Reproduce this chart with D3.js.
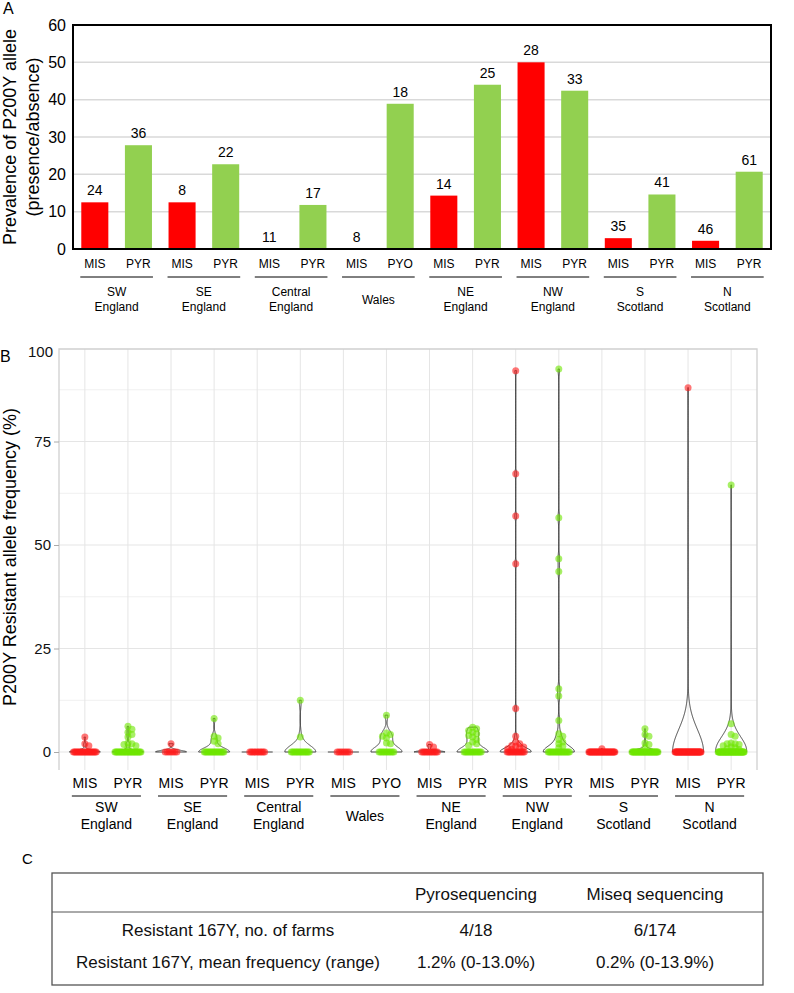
<!DOCTYPE html>
<html>
<head>
<meta charset="utf-8">
<script src="https://cdn.jsdelivr.net/npm/d3@7"></script>
<style>
body { margin: 0; background: #fff; }
svg { font-family: "Liberation Sans", Arial, sans-serif; }
</style>
</head>
<body>
<svg id="fig" width="794" height="993"></svg>
<script>
// regions and the two sample sets per region
var regions = [["SW","England"],["SE","England"],["Central","England"],["Wales"],["NE","England"],["NW","England"],["S","Scotland"],["N","Scotland"]];
var methodA = ["MIS","MIS","MIS","MIS","MIS","MIS","MIS","MIS"];
var methodB = ["PYR","PYR","PYR","PYO","PYR","PYR","PYR","PYR"];

// panel A: prevalence (%) and number of farms
var prevMIS = [12.5, 12.5, 0, 0, 14.3, 50, 2.9, 2.2];
var prevPYR = [27.8, 22.7, 11.8, 38.9, 44, 42.4, 14.6, 20.7];
var nMIS = [24, 8, 11, 8, 14, 28, 35, 46];
var nPYR = [36, 22, 17, 18, 25, 33, 41, 61];

// panel B: non-zero resistant allele frequencies (%) and number of farms at 0
var freqMIS = [
  [3.6, 2.0, 1.5],
  [2.0],
  [],
  [],
  [1.8, 1.2],
  [92.1, 67.2, 57.0, 45.5, 10.5, 3.8, 2.4, 2.0, 1.6, 1.4, 1.2, 1.0, 0.8, 0.6],
  [0.8],
  [88.0]
];
var zeroMIS = [21, 7, 11, 8, 12, 14, 34, 45];
var freqPYR = [
  [6.2, 5.5, 4.8, 4.2, 3.6, 2.2, 2.0, 1.8, 1.5, 1.0],
  [8.1, 3.8, 3.4, 2.6, 2.0],
  [12.5, 3.6],
  [8.9, 4.6, 4.2, 3.8, 3.4, 2.2, 2.0],
  [6.0, 5.6, 5.2, 4.8, 4.4, 4.0, 3.6, 3.0, 2.4, 2.0, 1.6],
  [92.5, 56.6, 46.7, 43.6, 15.3, 13.5, 7.6, 4.4, 3.8, 3.0, 2.4, 2.0, 1.4, 1.0],
  [5.6, 4.2, 3.8, 2.2, 1.8, 1.0],
  [64.5, 6.8, 4.2, 3.8, 2.2, 2.0, 2.0, 1.8, 1.5, 1.2, 1.0, 0.8, 0.6]
];
var zeroPYR = [26, 17, 15, 11, 14, 19, 35, 48];

var ticksA = [0, 10, 20, 30, 40, 50, 60];
var ticksB = [0, 25, 50, 75];

// panel C table
var tableHead = ["", "Pyrosequencing", "Miseq sequencing"];
var tableRows = [
  ["Resistant 167Y, no. of farms", "4/18", "6/174"],
  ["Resistant 167Y, mean frequency (range)", "1.2% (0-13.0%)", "0.2% (0-13.9%)"]
];

var svg = d3.select("#fig");

var cats = [];
regions.forEach(function(r, i) {
  cats.push({key: i + "a", region: i, label: methodA[i], prev: prevMIS[i], n: nMIS[i], vals: freqMIS[i], zeros: zeroMIS[i], bar: "#ff0000", dot: "#ff1a1a"});
  cats.push({key: i + "b", region: i, label: methodB[i], prev: prevPYR[i], n: nPYR[i], vals: freqPYR[i], zeros: zeroPYR[i], bar: "#92d050", dot: "#6ee600"});
});
var keys = cats.map(function(c) { return c.key; });

// ---------------- Panel A ----------------
var gA = svg.append("g");
var xA = d3.scaleBand().domain(keys).range([73, 771]).paddingInner(0.38).paddingOuter(0.19);
var yA = d3.scaleLinear().domain([0, 60]).range([249, 25]);

gA.append("text").attr("x", 3).attr("y", 14).attr("font-size", 16).text("A");

gA.selectAll(".grid").data(ticksA.slice(1, -1)).enter().append("line")
  .attr("x1", 73).attr("x2", 771)
  .attr("y1", function(d) { return yA(d); }).attr("y2", function(d) { return yA(d); })
  .attr("stroke", "#d9d9d9").attr("stroke-width", 1.5);

gA.selectAll(".bar").data(cats).enter().append("rect")
  .attr("x", function(d) { return xA(d.key); })
  .attr("y", function(d) { return yA(d.prev); })
  .attr("width", xA.bandwidth())
  .attr("height", function(d) { return yA(0) - yA(d.prev); })
  .attr("fill", function(d) { return d.bar; });

gA.selectAll(".nlab").data(cats).enter().append("text")
  .attr("x", function(d) { return xA(d.key) + xA.bandwidth() / 2; })
  .attr("y", function(d) { return yA(d.prev) - 7; })
  .attr("text-anchor", "middle").attr("font-size", 14)
  .text(function(d) { return d.n; });

gA.append("rect").attr("x", 73).attr("y", 25).attr("width", 698).attr("height", 224)
  .attr("fill", "none").attr("stroke", "#000").attr("stroke-width", 2);

var axA = gA.append("g").attr("transform", "translate(73,0)")
  .call(d3.axisLeft(yA).tickValues(ticksA).tickSize(0).tickPadding(7));
axA.select(".domain").remove();
axA.selectAll("text").attr("font-size", 16).attr("font-family", null).attr("fill", "#000");

var titleA = gA.append("text").attr("transform", "translate(16,137) rotate(-90)")
  .attr("text-anchor", "middle").attr("font-size", 18);
titleA.append("tspan").attr("x", 0).attr("dy", 0).text("Prevalence of P200Y allele");
titleA.append("tspan").attr("x", 0).attr("dy", 23).text("(presence/absence)");

gA.selectAll(".mlab").data(cats).enter().append("text")
  .attr("x", function(d) { return xA(d.key) + xA.bandwidth() / 2; })
  .attr("y", 268).attr("text-anchor", "middle").attr("font-size", 12)
  .text(function(d) { return d.label; });

regions.forEach(function(r, i) {
  var x0 = xA(i + "a") - 1, x1 = xA(i + "b") + xA.bandwidth() + 1, xm = (x0 + x1) / 2;
  gA.append("line").attr("x1", x0).attr("x2", x1).attr("y1", 277).attr("y2", 277)
    .attr("stroke", "#000").attr("stroke-width", 1);
  var t = gA.append("text").attr("text-anchor", "middle").attr("font-size", 12);
  if (r.length === 1) {
    t.append("tspan").attr("x", xm).attr("y", 304).text(r[0]);
  } else {
    t.append("tspan").attr("x", xm).attr("y", 296).text(r[0]);
    t.append("tspan").attr("x", xm).attr("y", 311).text(r[1]);
  }
});

// ---------------- Panel B ----------------
var gB = svg.append("g");
var topB = 349, botB = 770, leftB = 59, rightB = 757;
var xB = d3.scalePoint().domain(keys).range([leftB, rightB]).padding(0.6);
var yB = d3.scaleLinear().domain([0, 100]).range([752, 338]);

gB.append("text").attr("x", 0).attr("y", 362).attr("font-size", 16).text("B");

gB.selectAll(".minor").data([12.5, 37.5, 62.5, 87.5]).enter().append("line")
  .attr("x1", leftB).attr("x2", rightB)
  .attr("y1", function(d) { return yB(d); }).attr("y2", function(d) { return yB(d); })
  .attr("stroke", "#f0f0f0").attr("stroke-width", 1);
gB.selectAll(".major").data(ticksB).enter().append("line")
  .attr("x1", leftB).attr("x2", rightB)
  .attr("y1", function(d) { return yB(d); }).attr("y2", function(d) { return yB(d); })
  .attr("stroke", "#e5e5e5").attr("stroke-width", 1);
gB.selectAll(".vgrid").data(keys).enter().append("line")
  .attr("x1", function(d) { return xB(d); }).attr("x2", function(d) { return xB(d); })
  .attr("y1", topB).attr("y2", botB)
  .attr("stroke", "#e5e5e5").attr("stroke-width", 1);
gB.append("path").attr("d", "M" + leftB + "," + botB + "V" + topB + "H" + rightB + "V" + botB)
  .attr("fill", "none").attr("stroke", "#d0d0d0").attr("stroke-width", 1.3);

var axB = gB.append("g").attr("transform", "translate(" + leftB + ",0)")
  .call(d3.axisLeft(yB).tickValues(ticksB).tickSize(5).tickPadding(3));
axB.select(".domain").remove();
axB.selectAll("line").attr("stroke", "#aaa");
axB.selectAll("text").attr("font-size", 15).attr("font-family", null).attr("fill", "#111");
gB.append("text").attr("x", leftB - 6).attr("y", topB + 3).attr("dy", "0.32em")
  .attr("text-anchor", "end").attr("font-size", 15).attr("fill", "#111").text("100");

gB.append("text").attr("transform", "translate(16,557) rotate(-90)")
  .attr("text-anchor", "middle").attr("font-size", 18)
  .text("P200Y Resistant allele frequency (%)");

function bwNrd0(x) {
  var s = x.slice().sort(d3.ascending);
  var hi = d3.deviation(x) || 0;
  var lo = Math.min(hi, (d3.quantileSorted(s, 0.75) - d3.quantileSorted(s, 0.25)) / 1.34);
  if (!lo) lo = hi || Math.abs(x[0]) || 1;
  return 0.9 * lo * Math.pow(x.length, -0.2);
}

var halfW = 15.5;
function violinPath(c) {
  var all = c.vals.concat(d3.range(c.zeros).map(function() { return 0; }));
  var lo = d3.min(all), hi = d3.max(all), cx = xB(c.key);
  if (hi === lo) return "M" + (cx - halfW) + "," + yB(lo) + "H" + (cx + halfW);
  var bw = bwNrd0(all);
  var grid = d3.range(512).map(function(i) { return lo + (hi - lo) * i / 511; });
  var dens = grid.map(function(g) {
    return d3.sum(all, function(v) { var z = (g - v) / bw; return Math.exp(-0.5 * z * z); });
  });
  var m = d3.max(dens);
  var right = grid.map(function(g, i) { return [cx + halfW * dens[i] / m, yB(g)]; });
  var left = grid.map(function(g, i) { return [cx - halfW * dens[i] / m, yB(g)]; }).reverse();
  return d3.line()(right.concat(left)) + "Z";
}

gB.selectAll(".violin").data(cats).enter().append("path")
  .attr("d", violinPath)
  .attr("fill", "none").attr("stroke", "#333").attr("stroke-width", 0.9);

function dots(c) {
  var out = [];
  var n0 = c.zeros, w = Math.min(13, 3 + 0.4 * n0);
  for (var k = 0; k < n0; k++) out.push({v: 0, dx: n0 > 1 ? -w + 2 * w * k / (n0 - 1) : 0, c: c});
  var placed = [];
  c.vals.slice().sort(d3.descending).forEach(function(v) {
    var py = yB(v), dx = 0, step = 0;
    while (placed.some(function(p) { return Math.hypot(p.dx - dx, p.py - py) < 3.5; })) {
      step++;
      dx = (step % 2 ? 1 : -1) * Math.ceil(step / 2) * 4;
    }
    placed.push({dx: dx, py: py});
    out.push({v: v, dx: dx, c: c});
  });
  return out;
}

cats.forEach(function(c) {
  gB.append("g").selectAll("circle").data(dots(c)).enter().append("circle")
    .attr("cx", function(d) { return xB(c.key) + d.dx; })
    .attr("cy", function(d) { return yB(d.v); })
    .attr("r", 3.5)
    .attr("fill", c.dot).attr("fill-opacity", 0.6);
});

gB.selectAll(".mlabB").data(cats).enter().append("text")
  .attr("x", function(d) { return xB(d.key); })
  .attr("y", 788).attr("text-anchor", "middle").attr("font-size", 14)
  .text(function(d) { return d.label; });

regions.forEach(function(r, i) {
  var x0 = xB(i + "a") - 13, x1 = xB(i + "b") + 13, xm = (x0 + x1) / 2;
  gB.append("line").attr("x1", x0).attr("x2", x1).attr("y1", 796).attr("y2", 796)
    .attr("stroke", "#000").attr("stroke-width", 1);
  var t = gB.append("text").attr("text-anchor", "middle").attr("font-size", 14);
  if (r.length === 1) {
    t.append("tspan").attr("x", xm).attr("y", 821).text(r[0]);
  } else {
    t.append("tspan").attr("x", xm).attr("y", 812).text(r[0]);
    t.append("tspan").attr("x", xm).attr("y", 829).text(r[1]);
  }
});

// ---------------- Panel C ----------------
var gC = svg.append("g");
gC.append("text").attr("x", 22).attr("y", 864).attr("font-size", 15).text("C");

var tLeft = 52, tRight = 763, tTop = 873, tSep = 912, tBot = 985;
var colX = [228, 476, 655];
var rowY = [894, 930, 962];

gC.append("rect").attr("x", tLeft).attr("y", tTop).attr("width", tRight - tLeft).attr("height", tBot - tTop)
  .attr("fill", "none").attr("stroke", "#555").attr("stroke-width", 1.3);
gC.append("line").attr("x1", tLeft).attr("x2", tRight).attr("y1", tSep).attr("y2", tSep)
  .attr("stroke", "#555").attr("stroke-width", 1);

[tableHead].concat(tableRows).forEach(function(row, r) {
  row.forEach(function(cell, j) {
    gC.append("text").attr("x", colX[j]).attr("y", rowY[r]).attr("dy", "0.35em")
      .attr("text-anchor", "middle").attr("font-size", 17).attr("fill", "#111").text(cell);
  });
});
</script>
</body>
</html>
